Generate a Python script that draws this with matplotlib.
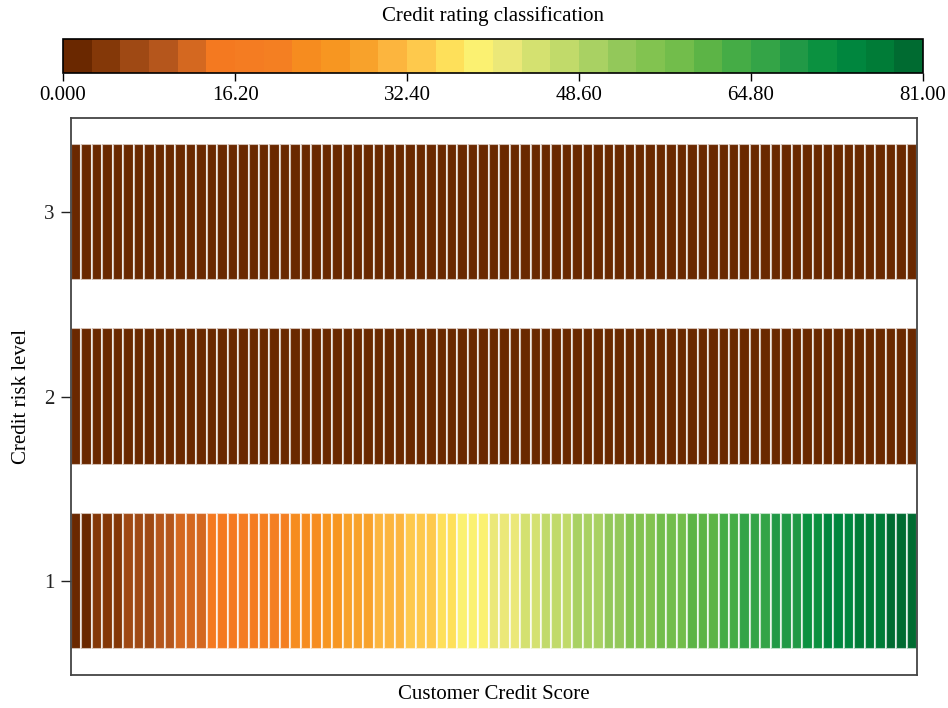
import numpy as np
import matplotlib
matplotlib.use("Agg")
import matplotlib.pyplot as plt
from matplotlib.colors import ListedColormap, BoundaryNorm

plt.rcParams['font.family'] = ['Liberation Serif', 'DejaVu Serif']

# colour levels of the rating scale (30 classes over 0..81)
level_colors = [
    '#6a2800', '#843808', '#9f4914', '#b5561c', '#d46820',
    '#f47920', '#f47c22', '#f47f22', '#f68c1f', '#f79621',
    '#f8a22b', '#fcb53e', '#fec94c', '#fee05a', '#fbf171',
    '#ebe878', '#d4e170', '#c1da6a', '#a9d163', '#93c85a',
    '#82c350', '#72bd4b', '#5cb446', '#45ac46', '#34a447',
    '#219946', '#0b9140', '#00863e', '#007c37', '#006b31',
]
rating_min = 0.0
rating_max = 81.0
cbar_ticks = [0.0, 16.2, 32.4, 48.6, 64.8, 81.0]
cbar_ticklabels = ['0.000', '16.20', '32.40', '48.60', '64.80', '81.00']

# customer credit scores along x
scores = [1, 2, 3, 4, 5, 6, 7, 8, 9, 10, 11, 12, 13, 14, 15, 16, 17, 18, 19, 20,
          21, 22, 23, 24, 25, 26, 27, 28, 29, 30, 31, 32, 33, 34, 35, 36, 37, 38, 39, 40,
          41, 42, 43, 44, 45, 46, 47, 48, 49, 50, 51, 52, 53, 54, 55, 56, 57, 58, 59, 60,
          61, 62, 63, 64, 65, 66, 67, 68, 69, 70, 71, 72, 73, 74, 75, 76, 77, 78, 79, 80, 81]
risk_levels = [1, 2, 3]
# rating classification of each cell, one list per risk level
rating_level1 = scores
rating_level2 = [0] * 81
rating_level3 = [0] * 81
ratings = [rating_level1, rating_level2, rating_level3]

cmap = ListedColormap(level_colors)
bounds = np.linspace(rating_min, rating_max, len(level_colors) + 1)
norm = BoundaryNorm(bounds, cmap.N, clip=True)

fig = plt.figure(figsize=(9.48, 7.08), dpi=100)
ax = fig.add_axes([0.0749, 0.0466, 0.8924, 0.7867])
cax = fig.add_axes([0.0665, 0.8969, 0.9072, 0.048])

for lvl, vals in zip(risk_levels, ratings):
    ax.bar(scores, [0.74] * len(scores), bottom=lvl - 0.37, width=1.0,
           color=cmap(norm(vals)), edgecolor=(1, 1, 1, 0.7), linewidth=1.5)

ax.set_xlim(0.5, 81.5)
ax.set_ylim(0.49, 3.51)
ax.set_xticks([])
ax.set_yticks(risk_levels)
ax.tick_params(axis='y', length=7, width=1.0, labelsize=15, colors='#222222', pad=5)
for s in ax.spines.values():
    s.set_color('#444444')
    s.set_linewidth(1.3)
ax.set_xlabel('Customer Credit Score', fontsize=15, labelpad=7)
ax.set_ylabel('Credit risk level', fontsize=15, labelpad=9)

sm = plt.cm.ScalarMappable(cmap=cmap, norm=norm)
cb = fig.colorbar(sm, cax=cax, orientation='horizontal', boundaries=bounds)
cb.minorticks_off()
cb.set_ticks(cbar_ticks)
cb.set_ticklabels(cbar_ticklabels)
cb.ax.tick_params(length=6, width=1.0, labelsize=15)
cb.outline.set_linewidth(1.2)
cb.ax.set_title('Credit rating classification', fontsize=15, pad=13)

fig.savefig('out.png', dpi=100)
